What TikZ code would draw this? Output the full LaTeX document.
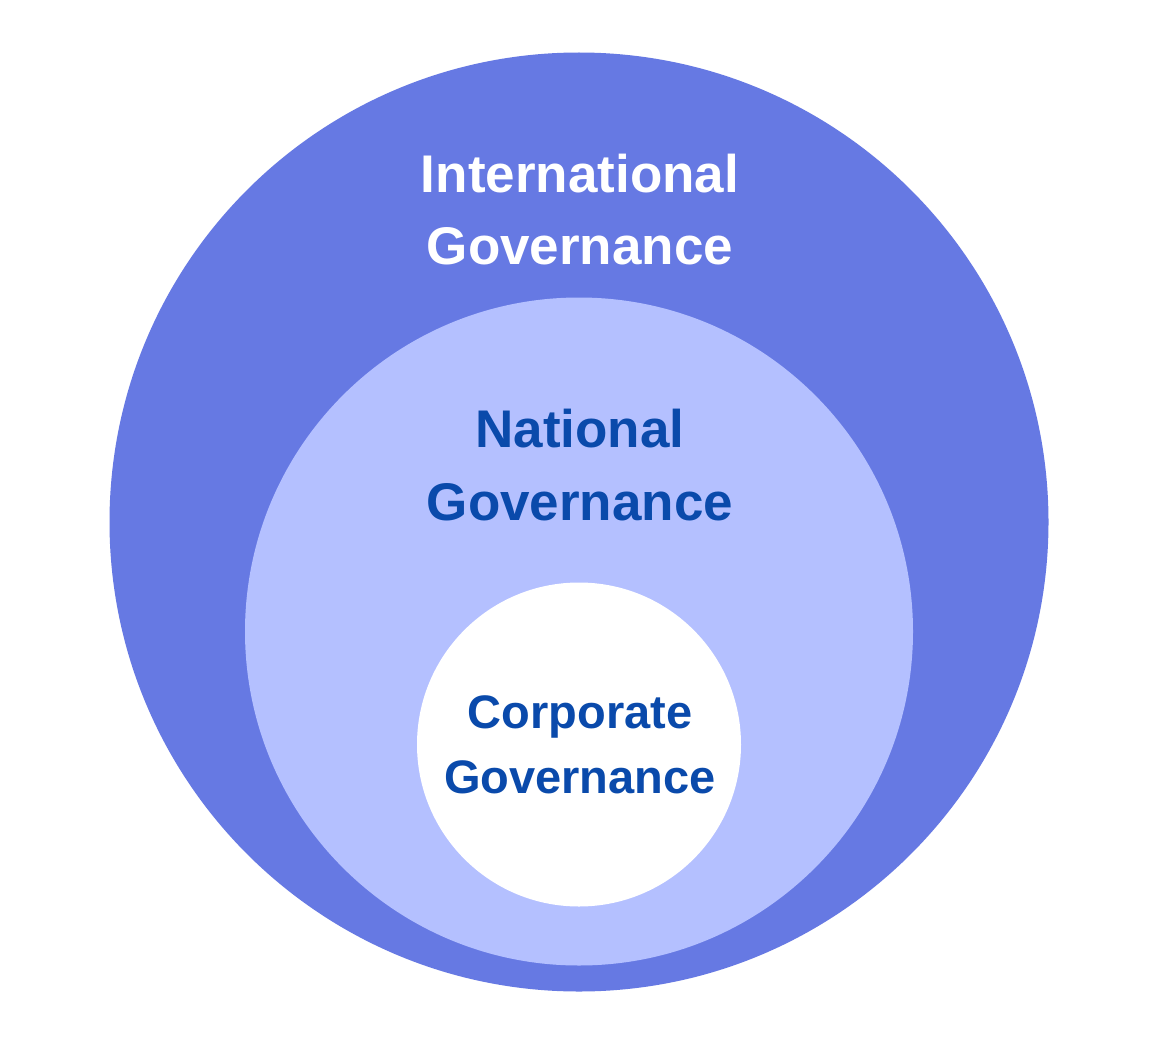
\documentclass[tikz,border=0pt]{standalone}
\usepackage{fontspec}
\setmainfont{Liberation Sans}
\definecolor{outerblue}{HTML}{6679E3}
\definecolor{midblue}{HTML}{B4C0FF}
\definecolor{textblue}{HTML}{0A4AAB}
\tikzset{
  lbl/.style={anchor=base, inner sep=0pt, font=\bfseries\fontsize{53}{64}\selectfont},
  lblsmall/.style={anchor=base, inner sep=0pt, font=\bfseries\fontsize{47}{56}\selectfont}
}
\begin{document}
\begin{tikzpicture}[x=1pt,y=-1pt]
\useasboundingbox (0,0) rectangle (1159,1046);
\fill[white] (0,0) rectangle (1159,1046);
\fill[outerblue] (579,522) circle (469.5);
\fill[midblue] (579,631.5) circle (334);
\fill[white] (579,744.5) circle (162);
\node[lbl, text=white] (intA) at (580,192) {International};
\node[lbl, text=white] (intB) at (580,264) {Governance};
\node[lbl, text=textblue] (natA) at (580,447) {National};
\node[lbl, text=textblue] (natB) at (580,520) {Governance};
\node[lblsmall, text=textblue] (corA) at (580,728) {Corporate};
\node[lblsmall, text=textblue] (corB) at (580,793) {Governance};
\end{tikzpicture}
\end{document}
